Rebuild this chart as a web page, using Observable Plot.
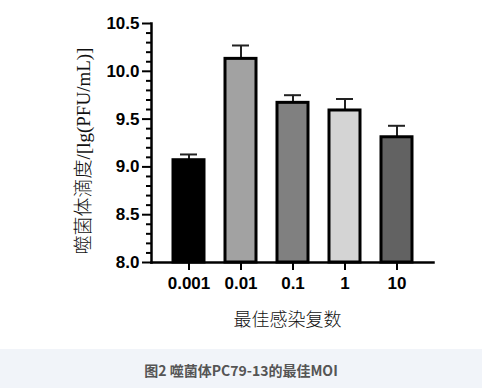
<!DOCTYPE html>
<html>
<head>
<meta charset="utf-8">
<script src="https://cdn.jsdelivr.net/npm/d3@7"></script>
<script src="https://cdn.jsdelivr.net/npm/@observablehq/plot@0.6"></script>
<style>
  html, body { margin: 0; padding: 0; background: #ffffff; }
  #chart svg { display: block; }
  #caption {
    width: 482px; height: 39px; background: #f1f4f9;
    display: flex; align-items: center; justify-content: center;
    font-family: "Noto Sans CJK SC", "Noto Sans", sans-serif; font-weight: bold;
    font-size: 14px; color: #555555; padding-top: 2px; box-sizing: border-box;
  }
</style>
</head>
<body>
<div id="chart"></div>
<div id="caption">图2 噬菌体PC79-13的最佳MOI</div>
<script>
const categories = ["0.001", "0.01", "0.1", "1", "10"];
const values = [9.07, 10.13, 9.67, 9.59, 9.31];
const errors = [0.06, 0.14, 0.08, 0.12, 0.12];
const fills = ["#000000", "#a2a2a2", "#808080", "#d4d4d4", "#626262"];
const yTicks = [8.0, 8.5, 9.0, 9.5, 10.0, 10.5];
const yMinorTicks = [8.1, 8.2, 8.3, 8.4, 8.6, 8.7, 8.8, 8.9, 9.1, 9.2, 9.3, 9.4, 9.6, 9.7, 9.8, 9.9, 10.1, 10.2, 10.3, 10.4];
const xTitle = "最佳感染复数";
const yTitle = "噬菌体滴度/[lg(PFU/mL)]";

const data = categories.map((c, i) => ({cat: c, value: values[i], err: errors[i], fill: fills[i]}));

const sansBold = "'Liberation Sans', Arial, sans-serif";

const chart = Plot.plot({
  width: 482,
  height: 349,
  marginLeft: 151,
  marginRight: 49,
  marginTop: 23,
  marginBottom: 87,
  style: {background: "white", fontFamily: sansBold},
  x: {domain: categories, paddingInner: 0.41, paddingOuter: 0.39, label: null, axis: null},
  y: {domain: [8, 10.5], label: null, axis: null},
  color: {type: "identity"},
  marks: [
    Plot.ruleX(data, {x: "cat", y1: "value", y2: d => d.value + d.err, stroke: "#222", strokeWidth: 2}),
    Plot.tickY(data, {x: "cat", y: d => d.value + d.err, stroke: "#222", strokeWidth: 2, insetLeft: 7, insetRight: 7}),
    Plot.barY(data, {x: "cat", y1: 8, y2: "value", fill: "fill", stroke: "black", strokeWidth: 3}),
    Plot.axisY(yMinorTicks, {tickSize: 5, tickFormat: () => "", strokeWidth: 2, stroke: "black", label: null}),
    Plot.axisY(yTicks, {tickSize: 9, tickPadding: 3, tickFormat: d => d.toFixed(1), strokeWidth: 2, stroke: "black",
      fontSize: 17, fontWeight: "bold", fill: "black", fontFamily: sansBold, label: null}),
    Plot.axisX({tickSize: 8, tickPadding: 6, strokeWidth: 2, stroke: "black", fontSize: 17, fontWeight: "bold",
      fill: "black", fontFamily: sansBold, label: null}),
    Plot.frame({anchor: "left", stroke: "black", strokeWidth: 2.5}),
    Plot.frame({anchor: "bottom", stroke: "black", strokeWidth: 2.5}),
    Plot.text([xTitle], {frameAnchor: "middle", dx: -5, dy: 177.5, fontSize: 18, fill: "#111", fontWeight: 300,
      fontFamily: "'Noto Sans CJK SC', sans-serif"}),
    Plot.text([yTitle], {frameAnchor: "middle", dx: -209, dy: 8, rotate: -90, fontSize: 19, fill: "#111", fontWeight: 300,
      fontFamily: "'Liberation Serif', 'Noto Sans CJK SC', serif"})
  ]
});
document.getElementById("chart").appendChild(chart);
</script>
</body>
</html>
